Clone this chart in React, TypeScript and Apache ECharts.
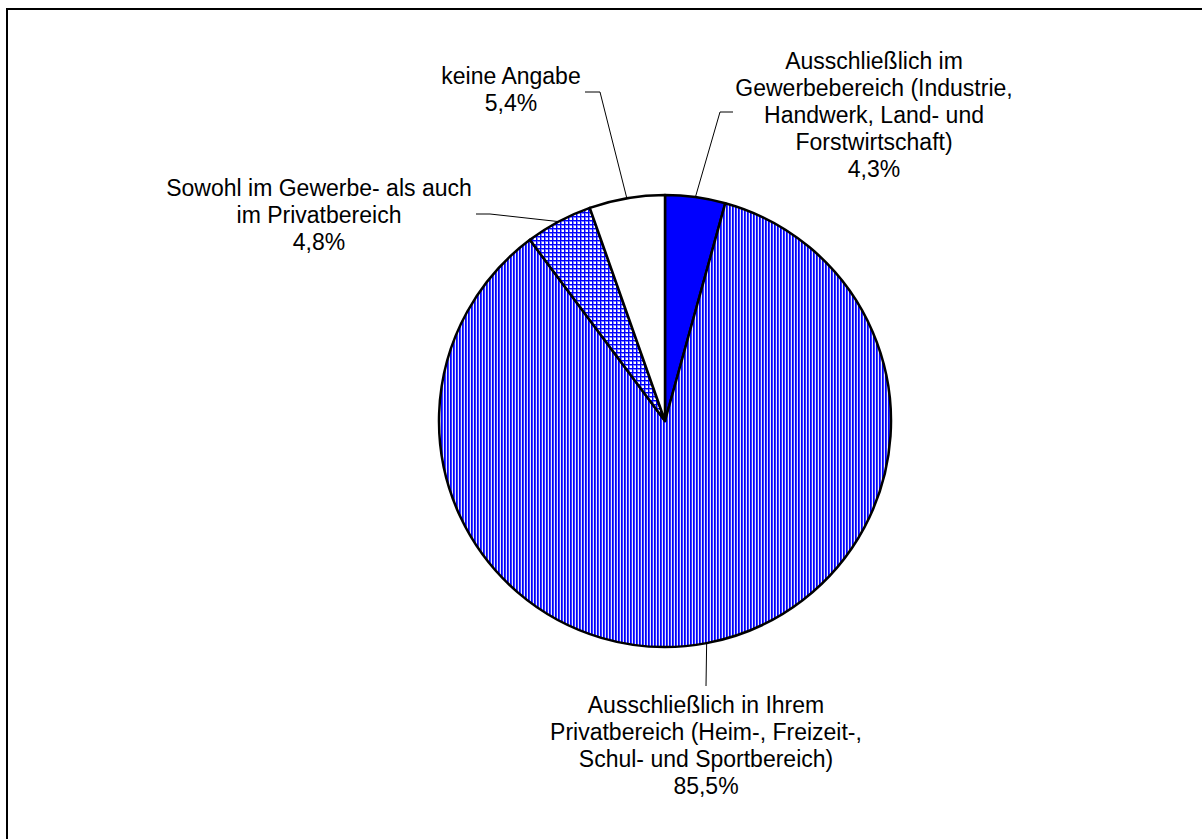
import React, { useEffect, useRef } from "react";
import * as echarts from "echarts";

const categories = [
  "Ausschließlich im\nGewerbebereich (Industrie,\nHandwerk, Land- und\nForstwirtschaft)",
  "Ausschließlich in Ihrem\nPrivatbereich (Heim-, Freizeit-,\nSchul- und Sportbereich)",
  "Sowohl im Gewerbe- als auch\nim Privatbereich",
  "keine Angabe",
];
const values = [4.3, 85.5, 4.8, 5.4];

const CX = 665;
const CY = 421;
const R = 226;

// label placement (layout only)
const labelPos = [
  { x: 874, y: 114.5, tail: [[720, 112], [733, 112]] },
  { x: 706, y: 745.5, tail: [[706, 686]] },
  { x: 319, y: 215, tail: [[490, 214], [476, 214]] },
  { x: 511, y: 89.5, tail: [[600, 92], [585, 92]] },
];

function makeStripes() {
  const c = document.createElement("canvas");
  c.width = 3;
  c.height = 3;
  const ctx = c.getContext("2d")!;
  ctx.fillStyle = "#e8e8ff";
  ctx.fillRect(0, 0, 3, 3);
  ctx.fillStyle = "#0000ff";
  ctx.fillRect(0, 0, 1, 3);
  ctx.fillStyle = "#3a3aff";
  ctx.fillRect(1, 0, 1, 3);
  return c;
}

function makeCross() {
  const c = document.createElement("canvas");
  c.width = 4;
  c.height = 4;
  const ctx = c.getContext("2d")!;
  ctx.fillStyle = "#ffffff";
  ctx.fillRect(0, 0, 4, 4);
  ctx.fillStyle = "#8080ff";
  ctx.fillRect(0, 1, 4, 1);
  ctx.fillRect(1, 0, 1, 4);
  ctx.fillStyle = "#0000ff";
  ctx.fillRect(0, 0, 4, 1);
  ctx.fillRect(0, 0, 1, 4);
  return c;
}

export default function App() {
  const ref = useRef<HTMLDivElement>(null);
  useEffect(() => {
    document.body.style.margin = "0";
    const chart = echarts.init(ref.current!, null, { renderer: "svg" });
    const total = values.reduce((a, b) => a + b, 0);
    const mids: number[] = [];
    let acc = 0;
    values.forEach((v) => {
      mids.push(((acc + v / 2) / total) * Math.PI * 2);
      acc += v;
    });
    const stripes = makeStripes();
    const cross = makeCross();
    const fills: any[] = [
      "#0000ff",
      { image: stripes, repeat: "repeat", imageWidth: 3, imageHeight: 3 },
      { image: cross, repeat: "repeat", imageWidth: 4, imageHeight: 4 },
      "#ffffff",
    ];
    chart.setOption({
      animation: false,
      backgroundColor: "#ffffff",
      graphic: [
        {
          type: "rect",
          shape: { x: 7, y: 9, width: 1400, height: 1000 },
          style: { fill: "none", stroke: "#000", lineWidth: 2 },
          silent: true,
        },
      ],
      series: [
        {
          type: "pie",
          center: [CX, CY],
          radius: R,
          startAngle: 90,
          clockwise: true,
          avoidLabelOverlap: false,
          emphasis: { disabled: true },
          itemStyle: { borderColor: "#000", borderWidth: 2.5 },
          label: {
            show: true,
            color: "#000",
            fontFamily: "'Liberation Sans', Arial, sans-serif",
            fontSize: 23,
            lineHeight: 27,
            align: "center",
            formatter: (p: any) =>
              `${p.name}\n${values[p.dataIndex].toFixed(1).replace(".", ",")}%`,
          },
          labelLine: { show: true, lineStyle: { color: "#000", width: 1 } },
          labelLayout: (params: any) => {
            const i = params.dataIndex;
            const lp = labelPos[i];
            const a = mids[i];
            const ex = CX + R * Math.sin(a);
            const ey = CY - R * Math.cos(a);
            return {
              x: lp.x,
              y: lp.y,
              align: "center",
              verticalAlign: "middle",
              labelLinePoints: [[ex, ey], ...lp.tail],
            };
          },
          data: categories.map((name, i) => ({
            name,
            value: values[i],
            itemStyle: { color: fills[i] },
          })),
        },
      ],
    });
    return () => chart.dispose();
  }, []);
  return <div ref={ref} style={{ width: 1202, height: 839 }} />;
}
